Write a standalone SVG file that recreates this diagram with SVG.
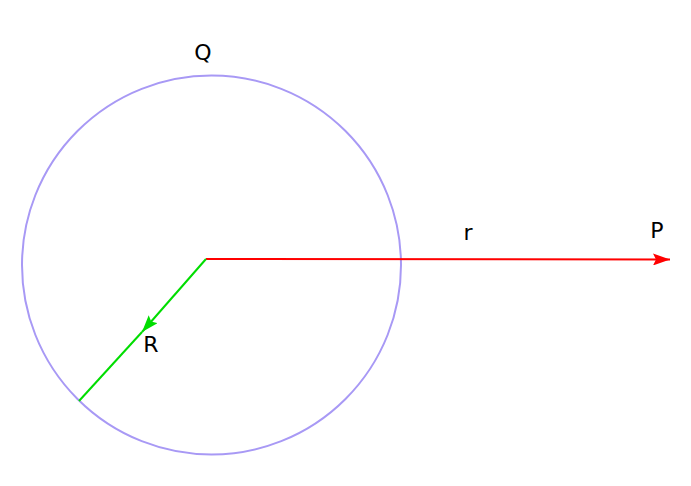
<svg xmlns="http://www.w3.org/2000/svg" width="691" height="486" viewBox="0 0 691 486">
<style>
text{font-family:"DejaVu Sans",sans-serif;font-size:22px;fill:#000;text-anchor:middle}
</style>
<defs>
<marker id="ar" viewBox="0 0 17 12" refX="17" refY="6" markerWidth="17" markerHeight="12" markerUnits="userSpaceOnUse" orient="auto"><path d="M0,0 L17,6 L0,12 L3,6 Z" fill="#ff0000"/></marker>
<marker id="ag" viewBox="0 0 17 12" refX="17" refY="6" markerWidth="17" markerHeight="12" markerUnits="userSpaceOnUse" orient="auto"><path d="M0,0 L17,6 L0,12 L3,6 Z" fill="#00dd00"/></marker>
</defs>
<rect width="691" height="486" fill="#fff"/>
<g id="circle"><circle cx="211.5" cy="265" r="189.5" fill="none" stroke="#a899f5" stroke-width="2"/></g>
<g id="connectors">
<line x1="206" y1="259" x2="670" y2="259.5" stroke="#ff0000" stroke-width="2" marker-end="url(#ar)"/>
<line x1="206" y1="259" x2="142" y2="332" stroke="#00dd00" stroke-width="2" marker-end="url(#ag)"/>
<line x1="142" y1="332" x2="79" y2="401" stroke="#00dd00" stroke-width="2"/>
</g>
<g id="labels">
<text x="203" y="60">Q</text>
<text x="657" y="238">P</text>
<text x="468" y="240">r</text>
<text x="151" y="352">R</text>
</g>
</svg>
